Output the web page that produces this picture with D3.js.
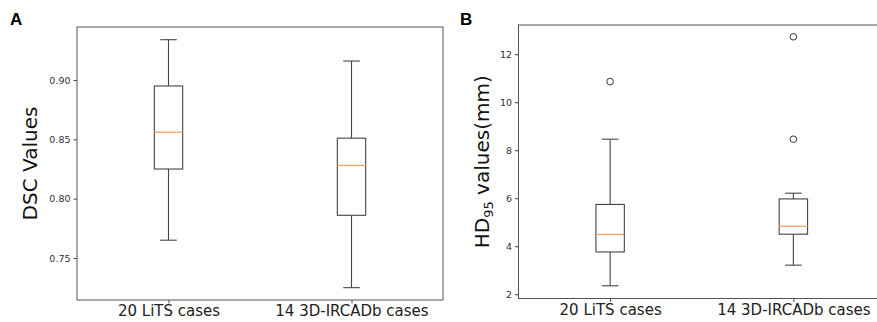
<!DOCTYPE html>
<html>
<head>
<meta charset="utf-8">
<script src="https://cdn.jsdelivr.net/npm/d3@7"></script>
<style>
  body { margin: 0; background: #fff; }
  svg { display: block; font-family: "DejaVu Sans", sans-serif; }
  .frame { fill: none; stroke: #555; stroke-width: 1; }
  .axis path { display: none; }
  .axis line { stroke: #444; }
  .axis text { fill: #333; font-family: "DejaVu Sans", sans-serif; }
</style>
</head>
<body>
<script>
(function() {

// categories shared by both panels
var categories = ["20 LiTS cases", "14 3D-IRCADb cases"];

// panel A: DSC box stats [whiskerLow, q1, median, q3, whiskerHigh]
var dscStats = [
    [0.765, 0.825, 0.856, 0.895, 0.934],
    [0.725, 0.786, 0.828, 0.851, 0.916]
];
var dscOutliers = [[], []];
var dscTicks = [0.75, 0.80, 0.85, 0.90];

// panel B: HD95 box stats
var hdStats = [
    [2.35, 3.76, 4.49, 5.74, 8.46],
    [3.21, 4.50, 4.83, 5.97, 6.21]
];
var hdOutliers = [[10.86], [12.73, 8.46]];
var hdTicks = [2, 4, 6, 8, 10, 12];

var width = 877, height = 322;

var svg = d3.select("body").append("svg")
    .attr("width", width)
    .attr("height", height);

//draw one boxplot panel
function drawPanel(opt) {
    var x = d3.scaleLinear().domain([0.5, 2.5]).range([opt.left, opt.right]);
    var y = d3.scaleLinear().domain(opt.domain).range([opt.bottom, opt.top]);

    var g = svg.append("g");

    var boxW = (x(1.155) - x(1)), capW = (x(1.09) - x(1));

    var groups = g.selectAll(".box")
        .data(opt.stats)
        .enter()
        .append("g")
        .attr("class", "box");

    groups.each(function(d, i) {
        var cx = x(i + 1);
        var bg = d3.select(this);
        //whiskers
        bg.append("line").attr("x1", cx).attr("x2", cx)
            .attr("y1", y(d[0])).attr("y2", y(d[1]))
            .attr("stroke", "#444").attr("stroke-width", 1.1);
        bg.append("line").attr("x1", cx).attr("x2", cx)
            .attr("y1", y(d[3])).attr("y2", y(d[4]))
            .attr("stroke", "#444").attr("stroke-width", 1.1);
        //caps
        [d[0], d[4]].forEach(function(v) {
            bg.append("line").attr("x1", cx - capW / 2).attr("x2", cx + capW / 2)
                .attr("y1", y(v)).attr("y2", y(v))
                .attr("stroke", "#444").attr("stroke-width", 1.1);
        });
        //box
        bg.append("rect")
            .attr("x", cx - boxW / 2).attr("width", boxW)
            .attr("y", y(d[3])).attr("height", y(d[1]) - y(d[3]))
            .attr("fill", "none").attr("stroke", "#444").attr("stroke-width", 1.1);
        //median
        bg.append("line").attr("x1", cx - boxW / 2).attr("x2", cx + boxW / 2)
            .attr("y1", y(d[2])).attr("y2", y(d[2]))
            .attr("stroke", "#f5a35c").attr("stroke-width", 1.3);
        //outliers
        opt.outliers[i].forEach(function(v) {
            bg.append("circle").attr("cx", cx).attr("cy", y(v)).attr("r", 3.3)
                .attr("fill", "none").attr("stroke", "#333").attr("stroke-width", 1);
        });
    });

    //axes
    var yAxis = d3.axisLeft(y).tickValues(opt.ticks).tickFormat(opt.fmt)
        .tickSize(3.5).tickPadding(3);
    g.append("g").attr("class", "axis")
        .attr("transform", "translate(" + opt.left + ",0)")
        .attr("font-family", null)
        .call(yAxis)
        .selectAll("text").style("font-size", "9.5px");

    var xAxis = d3.axisBottom(x).tickValues([1, 2])
        .tickFormat(function(d) { return categories[d - 1]; })
        .tickSize(3.5).tickPadding(2);
    g.append("g").attr("class", "axis")
        .attr("transform", "translate(0," + opt.bottom + ")")
        .call(xAxis)
        .selectAll("text").style("font-size", "15px").style("fill", "#222");

    //frame
    g.append("rect").attr("class", "frame")
        .attr("x", opt.left).attr("y", opt.top)
        .attr("width", opt.right - opt.left).attr("height", opt.bottom - opt.top);

    //y label
    var lab = g.append("text")
        .attr("transform", "translate(" + opt.labelX + "," + ((opt.top + opt.bottom) / 2) + ") rotate(-90)")
        .attr("text-anchor", "middle")
        .style("font-size", "20px")
        .style("fill", "#111");
    opt.label(lab);

    //panel letter
    svg.append("text")
        .attr("x", opt.letterX).attr("y", 25)
        .style("font-family", "'Liberation Sans', Arial, sans-serif")
        .style("font-weight", "bold")
        .style("font-size", "17px")
        .text(opt.letter);
}

drawPanel({
    left: 77, right: 443, top: 27, bottom: 300,
    domain: [0.7146, 0.9447],
    stats: dscStats, outliers: dscOutliers, ticks: dscTicks,
    fmt: d3.format(".2f"),
    labelX: 37,
    letter: "A", letterX: 10,
    label: function(t) { t.text("DSC Values"); }
});

drawPanel({
    left: 518.5, right: 885, top: 25, bottom: 298.5,
    domain: [1.82, 13.22],
    stats: hdStats, outliers: hdOutliers, ticks: hdTicks,
    fmt: d3.format("d"),
    labelX: 489,
    letter: "B", letterX: 460,
    label: function(t) {
        t.append("tspan").text("HD");
        t.append("tspan").attr("dy", "0.3em").style("font-size", "13px").text("95");
        t.append("tspan").attr("dy", "-0.2em").text(" values(mm)");
    }
});

})();
</script>
</body>
</html>
